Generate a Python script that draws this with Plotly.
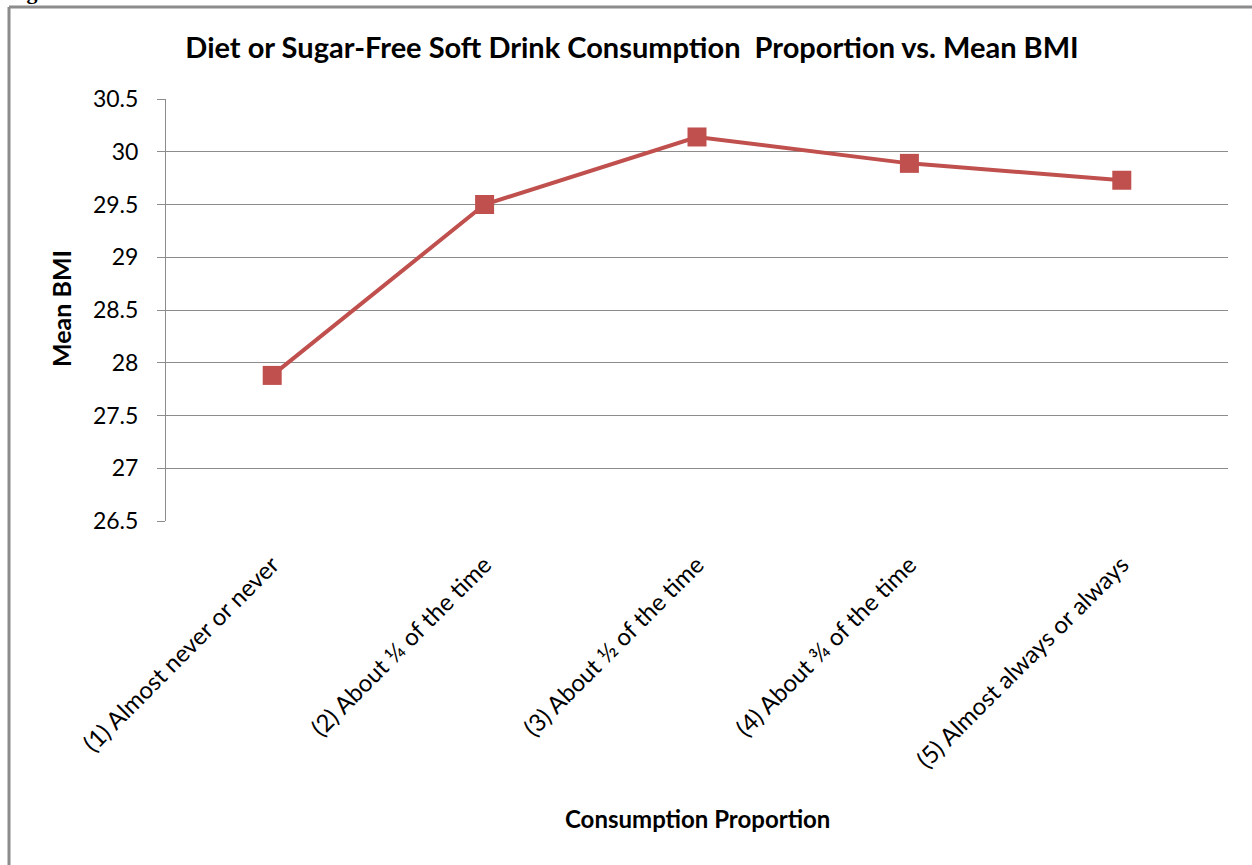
import plotly.graph_objects as go

categories = [
    "(1) Almost never or never",
    "(2) About ¼ of the time",
    "(3) About ½ of the time",
    "(4) About ¾ of the time",
    "(5) Almost always or always",
]
mean_bmi = [27.88, 29.50, 30.14, 29.89, 29.73]
y_ticks = [26.5, 27, 27.5, 28, 28.5, 29, 29.5, 30, 30.5]
y_tick_labels = ["26.5", "27", "27.5", "28", "28.5", "29", "29.5", "30", "30.5"]

red = "#C0504D"
grey = "#8C8C8C"
font_family = "Lato, 'Open Sans', sans-serif"

W, H = 1252, 865
L, R, T, B = 166, 24, 99, 344
PW, PH = W - L - R, H - T - B


def px_x(x):
    return (x - L) / PW


def px_y(y):
    return (H - B - y) / PH


fig = go.Figure()
fig.add_trace(go.Scatter(
    x=categories, y=mean_bmi, mode="lines+markers",
    line=dict(color=red, width=4),
    marker=dict(symbol="square", size=19, color=red),
    showlegend=False,
))

fig.update_layout(
    width=W, height=H,
    paper_bgcolor="white", plot_bgcolor="white",
    margin=dict(l=L, r=R, t=T, b=B),
    font=dict(family=font_family, color="black"),
    title=dict(
        text="<b>Diet or Sugar-Free Soft Drink Consumption  Proportion vs. Mean BMI</b>",
        x=632 / W, xanchor="center", y=1 - 48 / H, yanchor="middle",
        font=dict(size=29, family=font_family),
    ),
    xaxis=dict(
        type="category", range=[-0.5, 4.5],
        tickangle=-45, tickfont=dict(size=24),
        showgrid=False, showline=False, ticks="", zeroline=False,
        ticklabelstandoff=24,
        automargin=False,
    ),
    yaxis=dict(
        range=[26.5, 30.5], tickvals=y_ticks, ticktext=y_tick_labels,
        tickfont=dict(size=23),
        showgrid=True, gridcolor=grey, gridwidth=1,
        showline=True, linecolor=grey, linewidth=1,
        ticks="outside", ticklen=8, tickcolor=grey,
        ticklabelstandoff=14,
        zeroline=False, automargin=False,
    ),
    shapes=[
        dict(type="line", xref="paper", yref="paper",
             x0=px_x(9), x1=px_x(W + 5), y0=px_y(7), y1=px_y(7),
             line=dict(color=grey, width=3)),
        dict(type="line", xref="paper", yref="paper",
             x0=px_x(9), x1=px_x(9), y0=px_y(7), y1=px_y(H + 5),
             line=dict(color=grey, width=3)),
    ],
)

# axis titles
fig.add_annotation(
    text="<b>Consumption Proportion</b>", xref="paper", yref="paper",
    x=px_x(697), y=px_y(819), xanchor="center", yanchor="middle",
    showarrow=False, font=dict(size=24, family=font_family),
)
fig.add_annotation(
    text="<b>Mean BMI</b>", xref="paper", yref="paper",
    x=px_x(61), y=px_y(309), xanchor="center", yanchor="middle",
    textangle=-90, showarrow=False, font=dict(size=25, family=font_family),
)

# partially cropped caption at top-left, as in the source image
fig.add_annotation(
    text="<b>Figure</b>", xref="paper", yref="paper",
    x=px_x(38), y=px_y(6), xanchor="center", yanchor="bottom",
    showarrow=False, font=dict(family="Liberation Serif, serif", size=22),
)

fig.write_html("out.html")
